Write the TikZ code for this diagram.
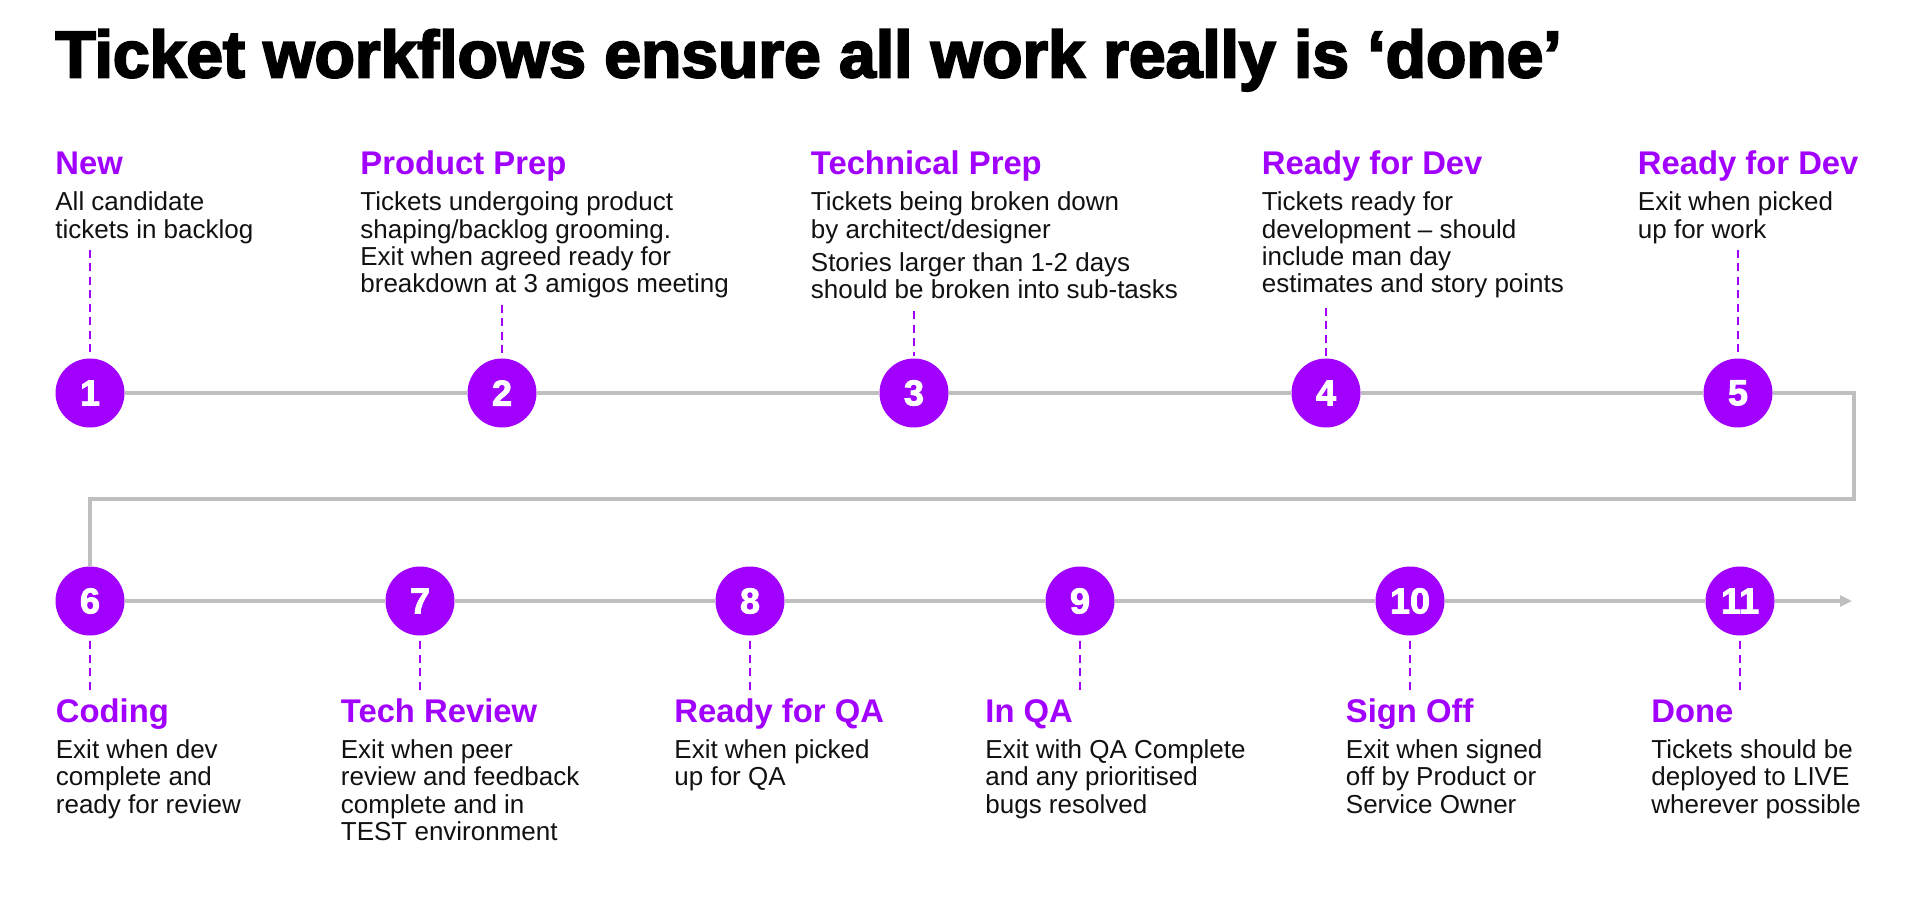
\documentclass[tikz,border=0pt]{standalone}
\usepackage{fontspec}
\usetikzlibrary{arrows.meta}
\setmainfont{Liberation Sans}
\newfontfamily\heavyfont{Liberation Sans}[BoldFeatures={FakeBold=3.2}]
\newfontfamily\numfont{Liberation Sans}[BoldFeatures={FakeBold=2.5}]
\definecolor{accpurple}{HTML}{A100FF}
\definecolor{linegray}{HTML}{BFBFBF}
\definecolor{bodyink}{HTML}{111111}
\newcommand{\titlestyle}{\heavyfont\bfseries\fontsize{33}{40}\selectfont}
\newcommand{\numstyle}{\numfont\bfseries\fontsize{18}{20}\selectfont}
\newcommand{\headstyle}{\bfseries\fontsize{16.4}{19}\selectfont}
\newcommand{\bodystyle}{\fontsize{13}{13.67}\selectfont}
\newcommand{\stagelines}[1]{\begin{tabular}[t]{@{}l@{}}#1\end{tabular}}
\tikzset{
  stepnum/.style={circle, fill=accpurple, minimum size=34.5pt, inner sep=0pt,
    text=white, font=\numstyle},
  heading/.style={anchor=base west, inner sep=0pt, text=accpurple, font=\headstyle},
  bodytext/.style={anchor=base west, inner sep=0pt, text=bodyink, font=\bodystyle},
  guide/.style={accpurple, line width=1.1pt, dash pattern=on 4pt off 2.75pt},
  track/.style={linegray, line width=1.6pt},
}
\begin{document}
\begin{tikzpicture}[x=0.5pt, y=-0.5pt]
\useasboundingbox (0,0) rectangle (1910,903);

% title
\node[anchor=base west, inner sep=0pt, font=\titlestyle] (title) at (55,77.3)
  {Ticket workflows ensure all work really is ‘done’};

% step circles, upper row
\node[stepnum] (c1) at (90,393) {1};
\node[stepnum] (c2) at (502,393) {2};
\node[stepnum] (c3) at (914,393) {3};
\node[stepnum] (c4) at (1326,393) {4};
\node[stepnum] (c5) at (1738,393) {5};
% step circles, lower row
\node[stepnum] (c6) at (90,601) {6};
\node[stepnum] (c7) at (420,601) {7};
\node[stepnum] (c8) at (750,601) {8};
\node[stepnum] (c9) at (1080,601) {9};
\node[stepnum] (c10) at (1410,601) {10};
\node[stepnum] (c11) at (1740,601) {11};

% route of the track
\coordinate (turnA) at (1854,393);
\coordinate (turnB) at (1854,499);
\coordinate (turnC) at (90,499);
\coordinate (tip) at (1852,601);
\draw[track] (c1) -- (c2) -- (c3) -- (c4) -- (c5) -- (turnA) -- (turnB) -- (turnC) -- (c6)
  -- (c7) -- (c8) -- (c9) -- (c10) -- (c11);
\draw[track, -{Triangle[length=6pt, width=5.5pt]}] (c11) -- (tip);

% upper row labels
\node[heading] (h1) at (55,174.5) {New};
\node[bodytext] (b1) at (55,210.7) {\stagelines{All candidate\\tickets in backlog}};
\node[heading] (h2) at (360,174.5) {Product Prep};
\node[bodytext] (b2) at (360,210.7) {\stagelines{Tickets undergoing product\\shaping/backlog grooming.\\Exit when agreed ready for\\breakdown at 3 amigos meeting}};
\node[heading] (h3) at (810.5,174.5) {Technical Prep};
\node[bodytext] (b3) at (810.5,210.7) {\stagelines{Tickets being broken down\\by architect/designer\\[2.85pt]Stories larger than 1-2 days\\should be broken into sub-tasks}};
\node[heading] (h4) at (1261.5,174.5) {Ready for Dev};
\node[bodytext] (b4) at (1261.5,210.7) {\stagelines{Tickets ready for\\development – should\\include man day\\estimates and story points}};
\node[heading] (h5) at (1637.5,174.5) {Ready for Dev};
\node[bodytext] (b5) at (1637.5,210.7) {\stagelines{Exit when picked\\up for work}};

% lower row labels
\node[heading] (h6) at (55.5,722.5) {Coding};
\node[bodytext] (b6) at (55.5,758.5) {\stagelines{Exit when dev\\complete and\\ready for review}};
\node[heading] (h7) at (340.5,722.5) {Tech Review};
\node[bodytext] (b7) at (340.5,758.5) {\stagelines{Exit when peer\\review and feedback\\complete and in\\TEST environment}};
\node[heading] (h8) at (674,722.5) {Ready for QA};
\node[bodytext] (b8) at (674,758.5) {\stagelines{Exit when picked\\up for QA}};
\node[heading] (h9) at (985,722.5) {In QA};
\node[bodytext] (b9) at (985,758.5) {\stagelines{Exit with QA Complete\\and any prioritised\\bugs resolved}};
\node[heading] (h10) at (1345.5,722.5) {Sign Off};
\node[bodytext] (b10) at (1345.5,758.5) {\stagelines{Exit when signed\\off by Product or\\Service Owner}};
\node[heading] (h11) at (1651,722.5) {Done};
\node[bodytext] (b11) at (1651,758.5) {\stagelines{Tickets should be\\deployed to LIVE\\wherever possible}};

% dashed leaders between labels and circles
\coordinate (d1) at (90,250);
\coordinate (d2) at (502,305);
\coordinate (d3) at (914,311.5);
\coordinate (d4) at (1326,308);
\coordinate (d5) at (1738,250);
\foreach \i in {1,...,5} \draw[guide, shorten >=1.2pt] (d\i) -- (c\i.north);
\coordinate (e6) at (90,690);
\coordinate (e7) at (420,690);
\coordinate (e8) at (750,690);
\coordinate (e9) at (1080,690);
\coordinate (e10) at (1410,690);
\coordinate (e11) at (1740,690);
\foreach \i in {6,...,11} \draw[guide, shorten <=2.75pt] (c\i.south) -- (e\i);
\end{tikzpicture}
\end{document}
